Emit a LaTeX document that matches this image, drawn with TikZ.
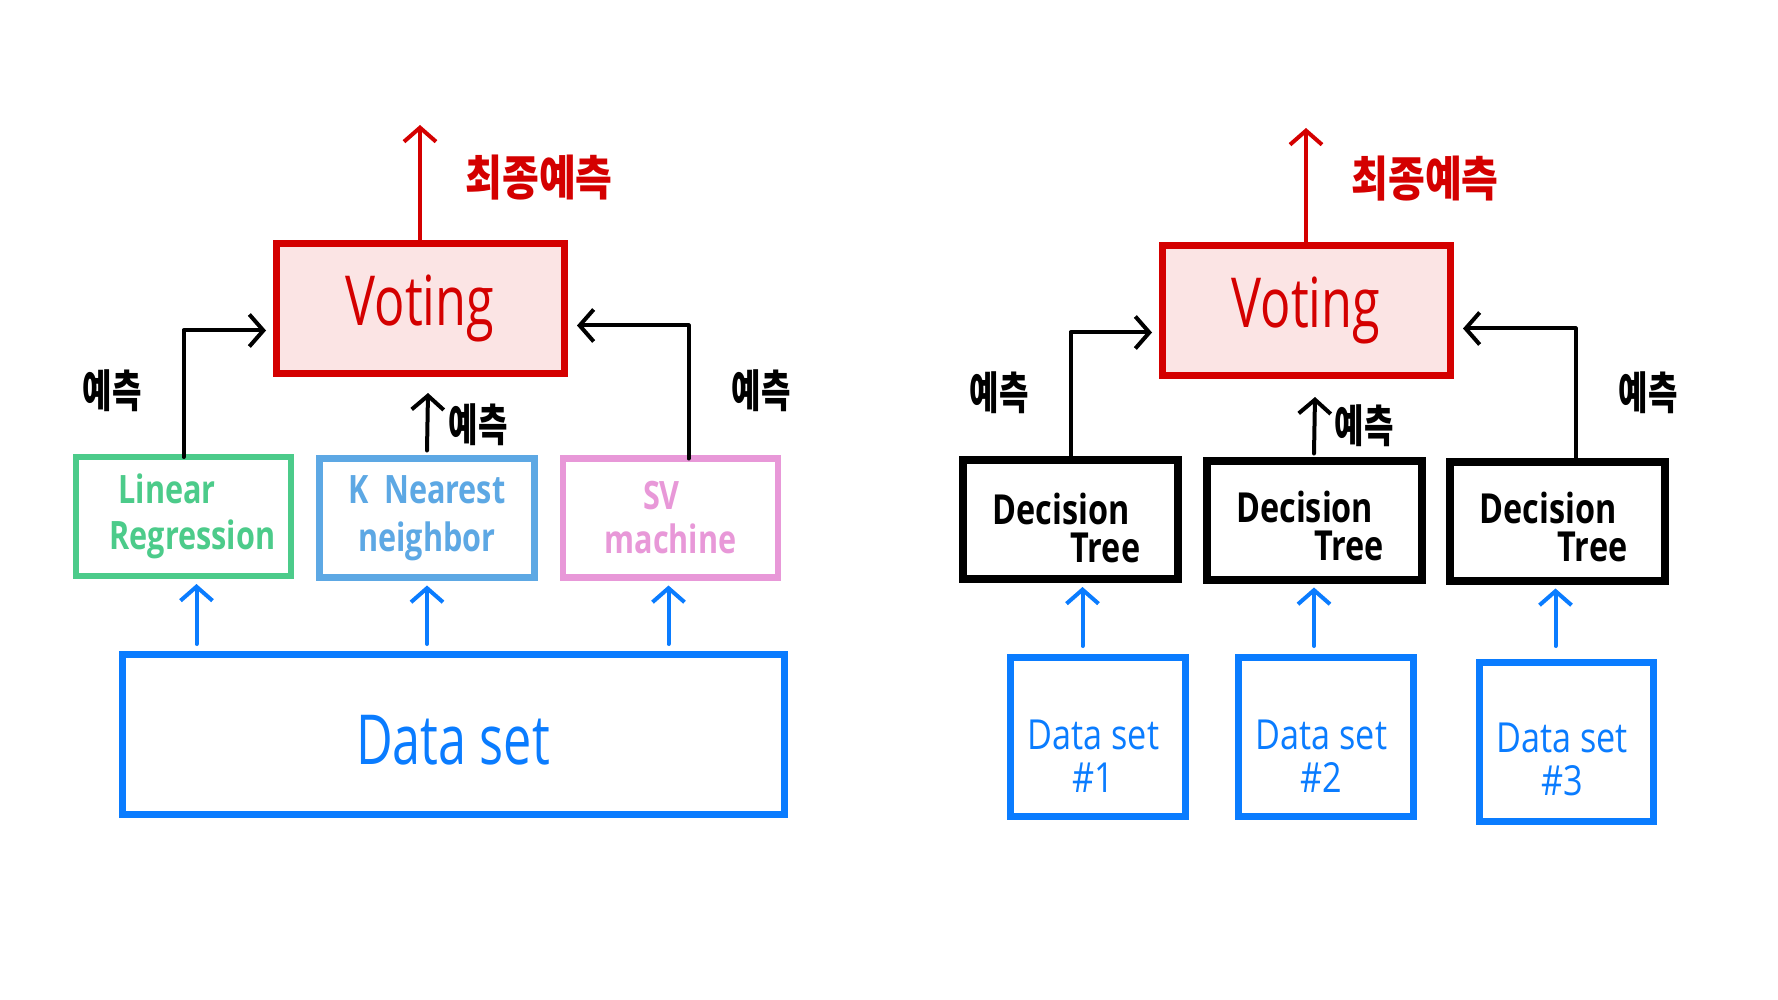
\documentclass[tikz,border=0pt]{standalone}
\usepackage{fontspec}
\setmainfont{Open Sans}
\newfontfamily\kr{Noto Sans CJK KR}
\usetikzlibrary{arrows.meta,calc}
\definecolor{vred}{HTML}{D40000}
\definecolor{vfill}{HTML}{FBE4E4}
\definecolor{lrgreen}{HTML}{4CCB8A}
\definecolor{knnblue}{HTML}{5DA8E4}
\definecolor{svpink}{HTML}{E898D8}
\definecolor{dsblue}{HTML}{0A7CFF}
\newcommand{\fs}[1]{\fontsize{#1}{#1}\selectfont}
\newcommand{\hw}[1]{\scalebox{0.84}[1.15]{#1}}
\newcommand{\hwm}[1]{\scalebox{0.9}[1.15]{#1}}
\newcommand{\hwd}[1]{\scalebox{0.95}[1.15]{#1}}
\tikzset{
  x=1pt, y=-1pt,
  boxbase/.style={draw, line width=7pt, inner sep=0pt, outer sep=0pt, rectangle},
  votebox/.style={boxbase, draw=vred, fill=vfill, minimum width=288pt, minimum height=129pt, text=vred, font=\fs{60}},
  modelbox/.style={boxbase, line width=6.5pt, minimum width=215pt, minimum height=119pt, font=\fs{34}\bfseries, align=center},
  modeltext/.style={inner sep=0pt, font=\fs{34}\bfseries},
  treebox/.style={boxbase, draw=black, line width=8pt, minimum width=215pt, minimum height=119pt},
  treetext/.style={inner sep=0pt, font=\fs{36}\bfseries, align=left},
  databox/.style={boxbase, draw=dsblue, line width=7pt},
  datatext/.style={inner sep=0pt, text=dsblue, font=\fs{36}, align=center},
  tip/.style={-{Straight Barb[length=14pt,width=32pt]}, line cap=round, line join=round},
  blackarrow/.style={line width=4pt, draw=black, tip},
  redarrow/.style={line width=4pt, draw=vred, tip},
  bluearrow/.style={line width=4pt, draw=dsblue, tip},
  finallabel/.style={text=vred, font=\kr\bfseries\fs{40}, inner sep=0pt},
  predlabel/.style={text=black, font=\kr\bfseries\fs{32}, inner sep=0pt},
}
\begin{document}
\begin{tikzpicture}
\useasboundingbox[fill=white] (0,0) rectangle (1778,1000);

% ---------------- left diagram ----------------
\node[votebox] (vote1) at (420,308.5) {\hw{Voting}};
\node[modelbox, draw=lrgreen] (lr) at (183.5,516.5) {};
\node[modeltext, text=lrgreen, align=left] (lrt) at ($(lr)+(9,0)$) {\hspace{9pt}\hwm{Linear}\\[12pt]\hwm{Regression}};
\node[modelbox, draw=knnblue, text=knnblue] (knn) at (427,518) {\hwm{K\enspace Nearest}\\[14pt]\hwm{neighbor}};
\node[modelbox, draw=svpink, text=svpink] (svm) at (670.5,518) {\hwm{\hspace*{-20pt}SV}\\[10pt]\hwm{machine}};
\node[databox, minimum width=662pt, minimum height=160pt] (ds) at (453,734) {};
\node[datatext, font=\fs{60}] (dst) at ($(ds)+(0,6)$) {\hw{Data set}};

\draw[redarrow] (vote1.north) -- ++(0,-119);
\node[finallabel] (fin1) at (539,178) {\scalebox{1}[1.2]{최종예측}};

\draw[blackarrow] (lr.north) |- ($(vote1.west)+(-10,22)$);
\draw[blackarrow] ([xshift=18pt]svm.north) |- ($(vote1.east)+(13,17)$);
\draw[blackarrow] ([yshift=8pt]knn.north) -- ($(vote1.south)+(8,20)$);
\node[predlabel] (p1a) at (112,391) {\scalebox{1}[1.4]{예측}};
\node[predlabel] (p1b) at (478,425) {\scalebox{1}[1.4]{예측}};
\node[predlabel] (p1c) at (761,391) {\scalebox{1}[1.4]{예측}};

\draw[bluearrow] ($(ds.north -| lr.south)+(13,-10)$) -- ($(lr.south)+(13,8)$);
\draw[bluearrow] ($(ds.north -| knn.south)+(0,-10)$) -- ($(knn.south)+(0,8)$);
\draw[bluearrow] ($(ds.north -| svm.south)+(-2,-10)$) -- ($(svm.south)+(-2,8)$);

% ---------------- right diagram ----------------
\node[votebox] (vote2) at (1306,310.5) {\hw{Voting}};
\node[treebox] (dt1) at (1070.5,519.5) {};
\node[treebox] (dt2) at (1314,520) {};
\node[treebox] (dt3) at (1557.5,521) {};
\node[treetext] (dt1t) at ($(dt1)+(-4,8)$) {\hwm{Decision}\\[2pt]\hspace{78pt}\hwm{Tree}};
\node[treetext] (dt2t) at ($(dt2)+(-4,6)$) {\hwm{Decision}\\[2pt]\hspace{78pt}\hwm{Tree}};
\node[treetext] (dt3t) at ($(dt3)+(-4,6)$) {\hwm{Decision}\\[2pt]\hspace{78pt}\hwm{Tree}};

\node[databox, minimum width=175pt, minimum height=159pt] (d1) at (1097.5,736.5) {};
\node[databox, minimum width=175pt, minimum height=159pt] (d2) at (1325.5,736.5) {};
\node[databox, minimum width=174pt, minimum height=159pt] (d3) at (1566,741.5) {};
\node[datatext] (d1t) at ($(d1)+(-4,20)$) {\hwd{Data set}\\[7pt]\hwd{\#1}};
\node[datatext] (d2t) at ($(d2)+(-4,20)$) {\hwd{Data set}\\[7pt]\hwd{\#2}};
\node[datatext] (d3t) at ($(d3)+(-4,18)$) {\hwd{Data set}\\[7pt]\hwd{\#3}};

\draw[redarrow] (vote2.north) -- ++(0,-118);
\node[finallabel] (fin2) at (1425,179) {\scalebox{1}[1.2]{최종예측}};

\draw[blackarrow] (dt1.north) |- ($(vote2.west)+(-10,22)$);
\draw[blackarrow] ([xshift=18pt]dt3.north) |- ($(vote2.east)+(13,18)$);
\draw[blackarrow] ([yshift=7pt]dt2.north) -- ($(vote2.south)+(9,22)$);
\node[predlabel] (p2a) at (999,393) {\scalebox{1}[1.4]{예측}};
\node[predlabel] (p2b) at (1364,426) {\scalebox{1}[1.4]{예측}};
\node[predlabel] (p2c) at (1648,393) {\scalebox{1}[1.4]{예측}};

\draw[bluearrow] ($(d1.north -| dt1.south)+(12,-11)$) -- ($(dt1.south)+(12,8)$);
\draw[bluearrow] ($(d2.north -| dt2.south)+(0,-11)$) -- ($(dt2.south)+(0,8)$);
\draw[bluearrow] ($(d3.north -| dt3.south)+(-2,-16)$) -- ($(dt3.south)+(-2,8)$);
\end{tikzpicture}
\end{document}
